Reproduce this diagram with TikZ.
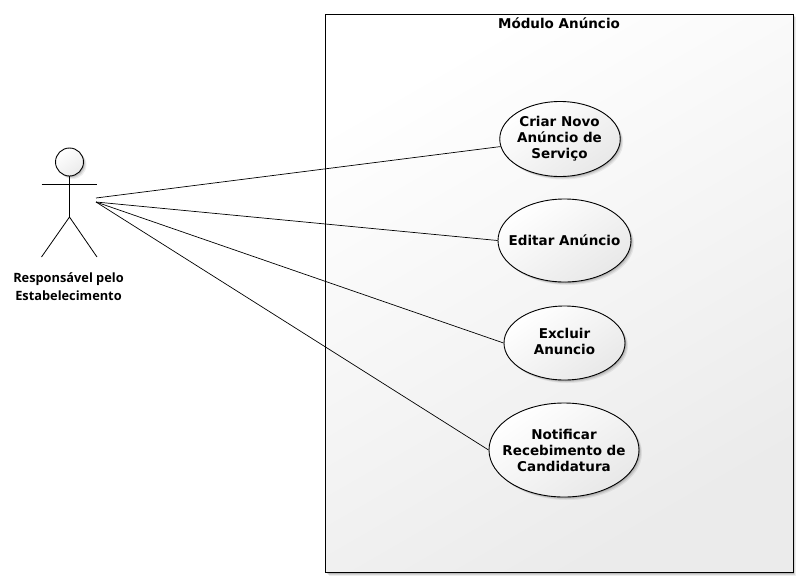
\documentclass[tikz,border=0pt]{standalone}
\usepackage{fontspec}
\setmainfont{DejaVu Sans}
\newfontfamily\actorfont{Open Sans}
\usetikzlibrary{shadows,shapes.geometric}
\tikzset{
  softshadow/.style={
    preaction={fill=black,opacity=.07,transform canvas={shift={(3pt,-3pt)}}},
    preaction={fill=black,opacity=.10,transform canvas={shift={(2pt,-2pt)}}},
    preaction={fill=black,opacity=.13,transform canvas={shift={(1pt,-1pt)}}}},
  usecase/.style={ellipse,draw=black,line width=.9pt,softshadow,inner sep=0pt,
    top color=white,bottom color=black!9,shading angle=35},
  casetext/.style={align=center,inner sep=0pt,font=\bfseries\fontsize{13.5}{16}\selectfont},
  module/.style={rectangle,draw=black,line width=.9pt,softshadow,inner sep=0pt,
    top color=white,bottom color=black!8,shading angle=30},
  assoc/.style={draw=black,line width=.7pt},
  actorline/.style={draw=black,line width=.8pt},
  actorhead/.style={circle,draw=black,line width=.9pt,softshadow,inner sep=0pt,
    minimum size=28pt,top color=white,bottom color=black!8,shading angle=35},
  actorlabel/.style={align=center,inner sep=0pt,
    font=\actorfont\bfseries\fontsize{12.8}{18}\selectfont},
  title/.style={inner sep=0pt,font=\bfseries\fontsize{13.5}{16}\selectfont}
}
\begin{document}
\begin{tikzpicture}[x=1pt,y=-1pt]
\useasboundingbox (0,0) rectangle (808,587);
\node[module,minimum width=467.5pt,minimum height=558.5pt] (box) at (559.25,293.5) {};
\node[title] (boxtitle) at (559,23.5) {Módulo Anúncio};
\node[usecase,minimum width=120.5pt,minimum height=75pt] (e1) at (560,139) {};
\node[usecase,minimum width=133pt,minimum height=83pt] (e2) at (564.5,240.5) {};
\node[usecase,minimum width=121pt,minimum height=74pt] (e3) at (564.5,343) {};
\node[usecase,minimum width=150pt,minimum height=94pt] (e4) at (564,450) {};
\node[casetext] (t1) at (559.5,139) {Criar Novo\\Anúncio de\\Serviço};
\node[casetext] (t2) at (564.5,240) {Editar Anúncio};
\node[casetext] (t3) at (564.5,341.5) {Excluir\\Anuncio};
\node[casetext] (t4) at (564,450) {Notificar\\Recebimento de\\Candidatura};
\node[actorhead] (head) at (69.5,162) {};
\coordinate (hip) at (69.5,217);
\coordinate (armL) at (41.5,184);
\coordinate (armR) at (97,184);
\coordinate (legL) at (41.5,257);
\coordinate (legR) at (97,257);
\coordinate (portA) at (96,198);
\coordinate (portB) at (96,202);
\draw[actorline] (head.south) -- (hip);
\draw[actorline] (armL) -- (armR);
\draw[actorline] (legL) -- (hip) -- (legR);
\node[actorlabel] (actor) at (68.5,286.5) {Responsável pelo\\Estabelecimento};
\draw[assoc] (portA) -- (e1);
\draw[assoc] (portB) -- (e2.west);
\draw[assoc] (portB) -- (e3.west);
\draw[assoc] (portB) -- (e4.west);
\end{tikzpicture}
\end{document}
